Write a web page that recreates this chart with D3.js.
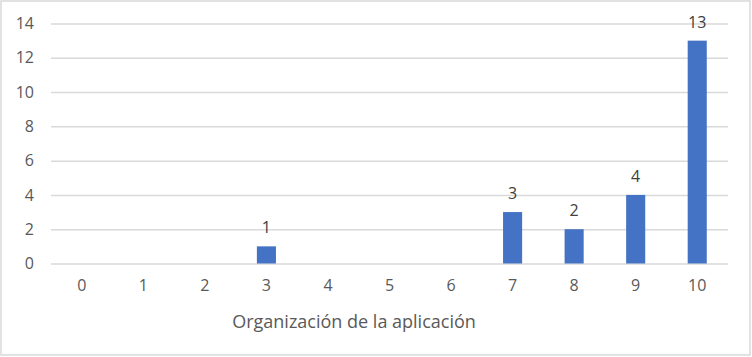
<!DOCTYPE html>
<html>
<head>
<meta charset="utf-8">
<script src="https://cdn.jsdelivr.net/npm/d3@7"></script>
<style>
  body { margin: 0; background: #fff; }
  text { font-family: "Open Sans", "Noto Sans", sans-serif; }
</style>
</head>
<body>
<div id="chart"></div>
<script>
var categories = ['0', '1', '2', '3', '4', '5', '6', '7', '8', '9', '10']
var values = [0, 0, 0, 1, 0, 0, 0, 3, 2, 4, 13]
var yTicks = [0, 2, 4, 6, 8, 10, 12, 14]
var xTitle = 'Organización de la aplicación'

var width = 752
var height = 357
var margin = { top: 23.5, right: 24, bottom: 93.5, left: 51 }

var svg = d3.select('#chart')
  .append('svg')
  .attr('width', width)
  .attr('height', height)

// chart border
svg.append('rect')
  .attr('x', 1)
  .attr('y', 1)
  .attr('width', width - 3)
  .attr('height', height - 3)
  .style('fill', '#fff')
  .style('stroke', '#d9d9d9')
  .style('stroke-width', 1.5)

var xScale = d3.scaleBand()
  .domain(categories)
  .range([margin.left, width - margin.right])
  .paddingInner(0.69)
  .paddingOuter(0.345)

var xCat = d3.scaleBand()
  .domain(categories)
  .range([margin.left, width - margin.right])

var yScale = d3.scaleLinear()
  .domain([0, 14])
  .range([height - margin.bottom, margin.top])

// Y grid
var yGrid = d3.axisLeft(yScale)
  .tickValues(yTicks)
  .tickSize(-(width - margin.right - margin.left))
  .tickFormat('')

svg.append('g')
  .attr('class', 'grid')
  .attr('transform', `translate(${margin.left},0)`)
  .call(yGrid)
  .call(g => g.select('.domain').remove())
  .selectAll('line')
  .style('stroke', '#d9d9d9')
  .style('stroke-width', 1.5)

// Y axis labels
var yAxis = d3.axisLeft(yScale)
  .tickValues(yTicks)
  .tickSize(0)
  .tickPadding(17)

svg.append('g')
  .attr('class', 'y-axis')
  .attr('transform', `translate(${margin.left},0)`)
  .call(yAxis)
  .call(g => g.select('.domain').remove())
  .selectAll('text')
  .style('font-size', '16px')
  .style('fill', '#595959')
  .style('font-family', '"Open Sans", "Noto Sans", sans-serif')

// X axis labels
var xAxis = d3.axisBottom(xCat)
  .tickSize(0)
  .tickPadding(16)

svg.append('g')
  .attr('class', 'x-axis')
  .attr('transform', `translate(0,${height - margin.bottom})`)
  .call(xAxis)
  .call(g => g.select('.domain').remove())
  .selectAll('text')
  .style('font-size', '16px')
  .style('fill', '#595959')
  .style('font-family', '"Open Sans", "Noto Sans", sans-serif')

// bars
svg.append('g')
  .selectAll('rect')
  .data(values)
  .enter()
  .append('rect')
  .attr('x', (d, i) => xScale(categories[i]))
  .attr('y', d => yScale(d))
  .attr('width', xScale.bandwidth())
  .attr('height', d => yScale(0) - yScale(d))
  .style('fill', '#4472c4')

// data labels (only non-zero values)
svg.append('g')
  .selectAll('text')
  .data(values.map((v, i) => ({ v: v, c: categories[i] })).filter(d => d.v > 0))
  .enter()
  .append('text')
  .attr('class', 'data-label')
  .attr('x', d => xCat(d.c) + xCat.bandwidth() / 2)
  .attr('y', d => yScale(d.v) - 13)
  .attr('text-anchor', 'middle')
  .style('font-size', '16px')
  .style('fill', '#404040')
  .text(d => d.v)

// x title
svg.append('text')
  .attr('x', 354)
  .attr('y', 328)
  .attr('text-anchor', 'middle')
  .style('font-size', '18px')
  .style('fill', '#595959')
  .text(xTitle)
</script>
</body>
</html>
